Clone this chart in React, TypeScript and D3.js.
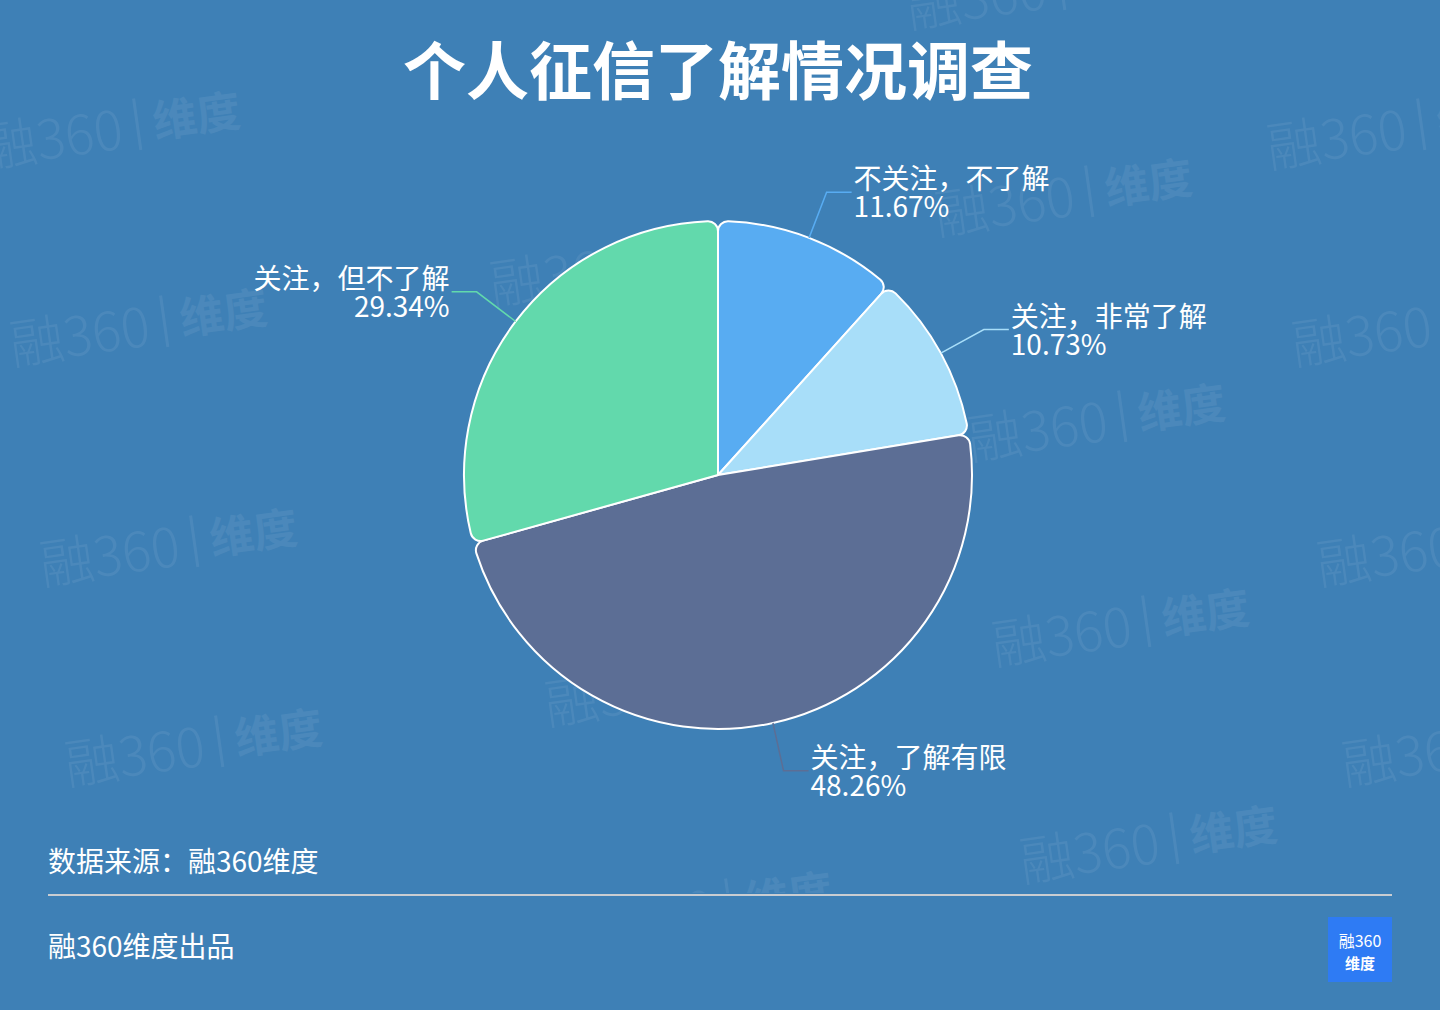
import React from "react";
import * as d3 from "d3";

const W = 1440;
const H = 1010;

const categories = ["不关注，不了解", "关注，非常了解", "关注，了解有限", "关注，但不了解"];
const values = [11.67, 10.73, 48.26, 29.34];
const colors = ["#58ACF2", "#A8DEF9", "#5C6E95", "#62D9AC"];

const titleText = "个人征信了解情况调查";
const sourceText = "数据来源：融360维度";
const footerText = "融360维度出品";

// watermark placements (decorative)
const watermarks: [number, number][] = [
  [-17, 148], [10, 345], [40, 565], [65, 765],
  [490, 285], [515, 495], [545, 705], [575, 928],
  [907, 8], [935, 215], [968, 440], [992, 645], [1020, 862],
  [1267, 148], [1292, 345], [1317, 565], [1342, 765],
];

const FONT = "'Noto Sans CJK SC', 'Noto Sans', sans-serif";

function Watermark({ x, y }: { x: number; y: number }) {
  return (
    <g transform={`translate(${x},${y}) rotate(-8)`} fill="#ffffff" opacity={0.065}>
      <text x={0} y={20} fontSize={54} fontWeight={300} fontFamily={FONT}>融360</text>
      <line x1={156} x2={156} y1={-28} y2={24} stroke="#ffffff" strokeWidth={3} />
      <text x={172} y={14} fontSize={44} fontWeight={700} fontFamily={FONT}>维度</text>
    </g>
  );
}

export default function App() {
  const cx = 718;
  const cy = 475;
  const r = 254;
  const len1 = 49;
  const len2 = 25;

  const pie = d3.pie<number>().sort(null).value((d) => d)(values);
  const arc = d3.arc<d3.PieArcDatum<number>>().innerRadius(0).outerRadius(r).cornerRadius(10);

  const labels = pie.map((p, i) => {
    const mid = (p.startAngle + p.endAngle) / 2;
    const sx = Math.sin(mid);
    const sy = -Math.cos(mid);
    const p0 = [cx + r * sx, cy + r * sy];
    const p1 = [cx + (r + len1) * sx, cy + (r + len1) * sy];
    const right = sx >= 0;
    const p2 = [p1[0] + (right ? len2 : -len2), p1[1]];
    return { i, p0, p1, p2, right };
  });

  return (
    <svg width={W} height={H} style={{ position: "absolute", left: 0, top: 0, display: "block" }}>
      <defs>
        <clipPath id="wmclip">
          <rect x={0} y={0} width={W} height={893} />
        </clipPath>
      </defs>
      <rect x={0} y={0} width={W} height={H} fill="#3E80B6" />
      <g clipPath="url(#wmclip)">
        {watermarks.map(([x, y], k) => (
          <Watermark key={k} x={x} y={y} />
        ))}
      </g>

      <text x={718} y={94} textAnchor="middle" fontSize={63} fontWeight={700} fill="#ffffff" fontFamily={FONT}>
        {titleText}
      </text>

      <g transform={`translate(${cx},${cy})`}>
        {pie.map((p, i) => (
          <path key={i} d={arc(p) || ""} fill={colors[i]} stroke="#ffffff" strokeWidth={2} strokeLinejoin="round" />
        ))}
      </g>

      {labels.map((l) => (
        <g key={l.i}>
          <polyline
            points={[l.p0, l.p1, l.p2].map((p) => p.join(",")).join(" ")}
            fill="none"
            stroke={colors[l.i]}
            strokeWidth={1.5}
          />
          <text
            fontSize={28}
            fill="#ffffff"
            fontFamily={FONT}
            textAnchor={l.right ? "start" : "end"}
          >
            <tspan x={l.p2[0] + (l.right ? 2 : -2)} y={l.p2[1] - 3}>{categories[l.i]}</tspan>
            <tspan x={l.p2[0] + (l.right ? 2 : -2)} y={l.p2[1] + 25}>{values[l.i].toFixed(2) + "%"}</tspan>
          </text>
        </g>
      ))}

      <text x={48} y={872} fontSize={28} fill="#ffffff" fontFamily={FONT}>{sourceText}</text>
      <line x1={48} x2={1392} y1={895} y2={895} stroke="#C9CDD2" strokeWidth={2} />
      <text x={48} y={957} fontSize={28} fill="#ffffff" fontFamily={FONT}>{footerText}</text>

      <rect x={1328} y={917} width={64} height={65} fill="#2E7BF4" />
      <text x={1360} y={947} textAnchor="middle" fontSize={16} fill="#ffffff" fontFamily={FONT}>融360</text>
      <text x={1360} y={969} textAnchor="middle" fontSize={15} fontWeight={700} fill="#ffffff" fontFamily={FONT}>维度</text>
    </svg>
  );
}
